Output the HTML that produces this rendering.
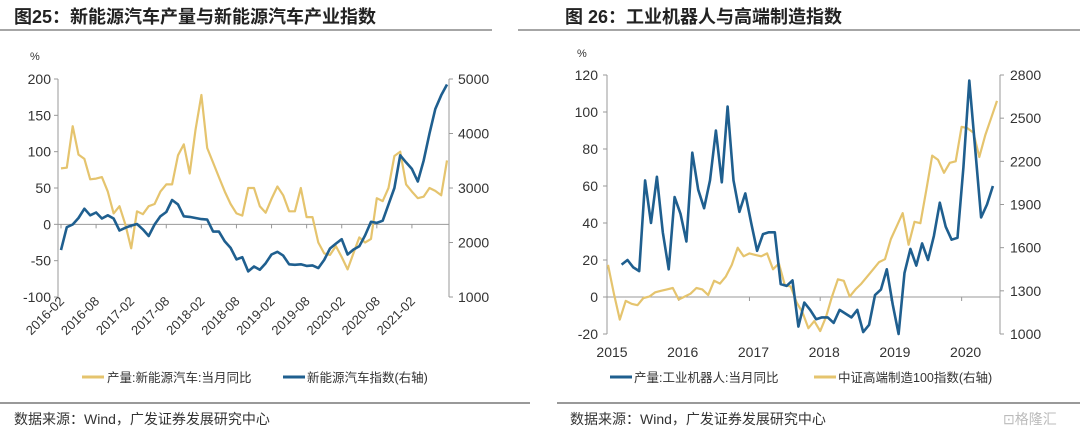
<!DOCTYPE html>
<html><head><meta charset="utf-8"><style>
body{margin:0;background:#fff;width:1080px;height:433px;overflow:hidden;font-family:"Liberation Sans","Noto Sans CJK SC",sans-serif}
svg{position:absolute;left:0;top:0}
</style></head><body>
<svg id="s" width="1080" height="433">
<text x="14" y="23" font-size="18" font-weight="bold" fill="#222">图25：新能源汽车产量与新能源汽车产业指数</text>
<line x1="0" y1="30" x2="492" y2="30" stroke="#888" stroke-width="1.5"/>
<text x="565" y="23" font-size="18" font-weight="bold" fill="#222">图 26：工业机器人与高端制造指数</text>
<line x1="518" y1="30" x2="1080" y2="30" stroke="#888" stroke-width="1.5"/>
<line x1="0" y1="403" x2="530" y2="403" stroke="#999" stroke-width="2"/>
<line x1="557" y1="403" x2="1080" y2="403" stroke="#999" stroke-width="2"/>
<text x="14" y="424" font-size="14" fill="#333">数据来源：Wind，广发证券发展研究中心</text>
<text x="570" y="424" font-size="14" fill="#333">数据来源：Wind，广发证券发展研究中心</text>
<text x="1003" y="424" font-size="14" fill="#bbb">⊡格隆汇</text>
<g id="L"></g><g id="R"></g>
</svg>
<script>
// Chart 25
const evYoY=[77,78,135,96,90,62,63,65,45,15,25,0,-33,18,14,25,28,45,55,55,95,110,70,130,178,105,85,65,45,28,15,12,50,50,25,16,35,52,40,18,18,50,10,10,-25,-40,-42,-30,-45,-62,-40,-18,-25,-20,36,32,50,94,100,55,45,36,38,50,46,40,88];
const evIndex=[1860,2280,2330,2450,2620,2500,2550,2440,2500,2440,2220,2270,2310,2340,2240,2120,2330,2480,2560,2780,2700,2480,2470,2450,2430,2420,2200,2200,2020,1900,1690,1730,1470,1560,1500,1620,1780,1830,1760,1600,1590,1600,1570,1580,1530,1680,1890,1980,2060,1780,1870,1930,2130,2380,2360,2400,2700,3000,3600,3470,3350,3120,3500,4000,4450,4700,4900];
const evLeftTicks=[200,150,100,50,0,-50,-100];
const evRightTicks=[5000,4000,3000,2000,1000];
const evXLabels=["2016-02","2016-08","2017-02","2017-08","2018-02","2018-08","2019-02","2019-08","2020-02","2020-08","2021-02"];
// Chart 26
const robotYoY=[17.5,20,16,14,63,40,65,35,15,54,45,30,78,58,48,63,90,62,103,63,46,56,40,25,34,35,35,7,6,9,-16,-3,-7,-12,-11,-11,-14,-7,-9,-11,-7,-19,-15,1,4,15,-4,-20,13,26,17,29,20,33,51,38,31,32,70,117,80,43,50,60];
const mfgIndex=[1480,1280,1100,1230,1210,1200,1250,1260,1290,1300,1310,1320,1240,1260,1280,1320,1310,1270,1370,1350,1400,1480,1600,1540,1560,1550,1540,1560,1450,1490,1340,1330,1220,1150,1040,1090,1020,1120,1260,1380,1370,1260,1310,1350,1400,1450,1500,1520,1660,1750,1840,1620,1780,1770,2000,2240,2210,2120,2190,2200,2440,2430,2400,2230,2380,2500,2620];
const rbLeftTicks=[120,100,80,60,40,20,0,-20];
const rbRightTicks=[2800,2500,2200,1900,1600,1300,1000];
const rbXLabels=["2015","2016","2017","2018","2019","2020"];

const NS="http://www.w3.org/2000/svg";
const YEL="#E5C46E",BLU="#1F5F8F",AX="#999",TX="#333";
function mk(p,t,a){const e=document.createElementNS(NS,t);for(const k in a)e.setAttribute(k,a[k]);p.appendChild(e);return e;}
function lin(d0,d1,r0,r1){return v=>r0+(v-d0)/(d1-d0)*(r1-r0);}
function path(vals,x,y){return vals.map((v,i)=>(i?"L":"M")+x(i).toFixed(1)+","+y(v).toFixed(1)).join("");}

// ---- left chart
const L=document.getElementById("L");
{
 const x0=58,x1=449,top=79,bot=297;
 const yl=lin(-100,200,bot,top), yr=lin(1000,5000,bot,top);
 const n=evIndex.length;
 const xi=lin(0,n-1,61,447);
 let e=mk(L,"line",{x1:x0,y1:top,x2:x0,y2:bot,stroke:AX});
 
 e=mk(L,"line",{x1:x1,y1:top,x2:x1,y2:bot,stroke:AX});
 
 e=mk(L,"line",{x1:x0,y1:yl(0),x2:x1,y2:yl(0),stroke:AX});
 
 evLeftTicks.forEach(v=>{mk(L,"line",{x1:x0-4,y1:yl(v),x2:x0,y2:yl(v),stroke:AX});
  const t=mk(L,"text",{x:x0-7,y:yl(v)+5,"text-anchor":"end","font-size":14,fill:TX});t.textContent=v;
  });
 evRightTicks.forEach(v=>{mk(L,"line",{x1:x1,y1:yr(v),x2:x1+4,y2:yr(v),stroke:AX});
  const t=mk(L,"text",{x:x1+9,y:yr(v)+5,"font-size":14,fill:TX});t.textContent=v;
  });
 let t=mk(L,"text",{x:30,y:60,"font-size":11,fill:TX});t.textContent="%";
 
 evXLabels.forEach((s,k)=>{const xx=xi(k*6);
  mk(L,"line",{x1:xx,y1:yl(0),x2:xx,y2:yl(0)+4,stroke:AX});
  const tt=mk(L,"text",{x:xx+4,y:302,"text-anchor":"end","font-size":13,fill:TX,transform:`rotate(-45 ${xx+4} 302)`});tt.textContent=s;
  });
 e=mk(L,"path",{d:path(evYoY,xi,yl),fill:"none",stroke:YEL,"stroke-width":2.2,"stroke-linejoin":"round"});
 
 e=mk(L,"path",{d:path(evIndex,xi,yr),fill:"none",stroke:BLU,"stroke-width":2.6,"stroke-linejoin":"round"});
 
 mk(L,"line",{x1:82,y1:377,x2:104,y2:377,stroke:YEL,"stroke-width":3});
 t=mk(L,"text",{x:107,y:382,"font-size":12.5,fill:TX});t.textContent="产量:新能源汽车:当月同比";
 
 mk(L,"line",{x1:283,y1:377,x2:305,y2:377,stroke:BLU,"stroke-width":3});
 t=mk(L,"text",{x:307,y:382,"font-size":12.5,fill:TX});t.textContent="新能源汽车指数(右轴)";
 
}
// ---- right chart
const R=document.getElementById("R");
{
 const x0=607,x1=1000,top=75,bot=334;
 const yl=lin(-20,120,bot,top), yr=lin(1000,2800,bot,top);
 const xm=lin(0,66,608,997);
 const xr=i=>xm(i+2.3);
 let e=mk(R,"line",{x1:x0,y1:top,x2:x0,y2:bot,stroke:AX});
 
 e=mk(R,"line",{x1:x1,y1:top,x2:x1,y2:bot,stroke:AX});
 
 e=mk(R,"line",{x1:x0,y1:yl(0),x2:x1,y2:yl(0),stroke:AX});
 
 rbLeftTicks.forEach(v=>{mk(R,"line",{x1:x0-4,y1:yl(v),x2:x0,y2:yl(v),stroke:AX});
  const t=mk(R,"text",{x:x0-9,y:yl(v)+5,"text-anchor":"end","font-size":14,fill:TX});t.textContent=v;
  });
 rbRightTicks.forEach(v=>{mk(R,"line",{x1:x1,y1:yr(v),x2:x1+4,y2:yr(v),stroke:AX});
  const t=mk(R,"text",{x:x1+10,y:yr(v)+5,"font-size":14,fill:TX});t.textContent=v;
  });
 let t=mk(R,"text",{x:577,y:57,"font-size":11,fill:TX});t.textContent="%";
 
 rbXLabels.forEach((s,k)=>{const xx=xm(k*12);
  if(k>0)mk(R,"line",{x1:xx,y1:yl(0),x2:xx,y2:yl(0)+4,stroke:AX});
  const tt=mk(R,"text",{x:xx+4,y:357,"text-anchor":"middle","font-size":14,fill:TX});tt.textContent=s;
  });
 e=mk(R,"path",{d:path(mfgIndex,xm,yr),fill:"none",stroke:YEL,"stroke-width":2.2,"stroke-linejoin":"round"});
 
 e=mk(R,"path",{d:path(robotYoY,xr,yl),fill:"none",stroke:BLU,"stroke-width":2.6,"stroke-linejoin":"round"});
 
 mk(R,"line",{x1:610,y1:377,x2:632,y2:377,stroke:BLU,"stroke-width":3});
 t=mk(R,"text",{x:634,y:382,"font-size":12.5,fill:TX});t.textContent="产量:工业机器人:当月同比";
 
 mk(R,"line",{x1:814,y1:377,x2:836,y2:377,stroke:YEL,"stroke-width":3});
 t=mk(R,"text",{x:838,y:382,"font-size":12.5,fill:TX});t.textContent="中证高端制造100指数(右轴)";
 
}
</script>
</body></html>
